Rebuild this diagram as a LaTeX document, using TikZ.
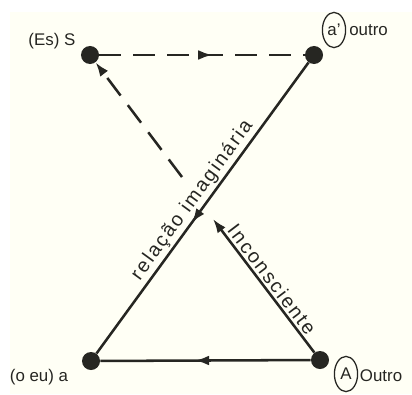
\documentclass[tikz,border=0pt]{standalone}
\usepackage{fontspec}
\setmainfont{Liberation Sans}
\newfontfamily\largo[LetterSpace=10]{Liberation Sans}
\usetikzlibrary{arrows.meta,positioning,shapes.geometric,decorations.markings}
\definecolor{papel}{RGB}{255,255,245}
\definecolor{tinta}{RGB}{38,38,34}

\begin{document}
\begin{tikzpicture}[>={Latex[length=10pt,width=7pt]},x=0.025cm,y=-0.025cm,
    ponto/.style={circle,fill=tinta,inner sep=0pt,minimum size=0.45cm},
    traco/.style={line width=1.8pt,draw=tinta},
    tracejado/.style={traco,dash pattern=on 0.55cm off 0.3cm},
    setameio/.style={postaction={decorate},
        decoration={markings,mark=at position #1 with {\arrow{>}}}},
    rotulo/.style={font=\fontsize{12}{14}\selectfont,text=tinta,inner sep=1pt},
    rotdiag/.style={font=\largo\fontsize{14}{16}\selectfont,text=tinta,inner sep=1.5pt},
    circulo/.style={ellipse,draw=tinta,line width=0.9pt,inner sep=0pt,
        minimum width=0.58cm,minimum height=0.88cm,font=\fontsize{12}{14}\selectfont,text=tinta}]
    \useasboundingbox (0,0) rectangle (412,394);
    \fill[papel] (10,12) rectangle (412,394);

    \node[ponto] (S) at (90,55) {};
    \node[ponto] (outro) at (314,55) {};
    \node[ponto] (a) at (91,361) {};
    \node[ponto] (Outro) at (320,360) {};

    \node[rotulo,anchor=east] (lS) at (77,41) {(Es) S};
    \node[circulo] (ca) at (334,30) {a'};
    \node[rotulo,right=1pt of ca] (loutro) {outro};
    \node[rotulo] (la) at (39,377) {(o eu) a};
    \node[circulo] (cA) at (346,374) {A};
    \node[rotulo,right=0pt of cA,yshift=-1pt] (lOutro) {Outro};

    \coordinate (quebra) at (213,219);
    \coordinate (retoma) at (182,177);

    \draw[tracejado,setameio=0.55] (S) -- (outro);
    \draw[traco,setameio=0.55] (outro) -- node[rotdiag,sloped,above] (lrel) {relação imaginária} (a);
    \draw[traco,setameio=0.55] (Outro) -- (a);
    \draw[traco,->] (Outro) -- node[rotdiag,sloped,above,pos=0.5] (linc) {Inconsciente} (quebra);
    \draw[tracejado,->] (retoma) -- (S);
\end{tikzpicture}
\end{document}
